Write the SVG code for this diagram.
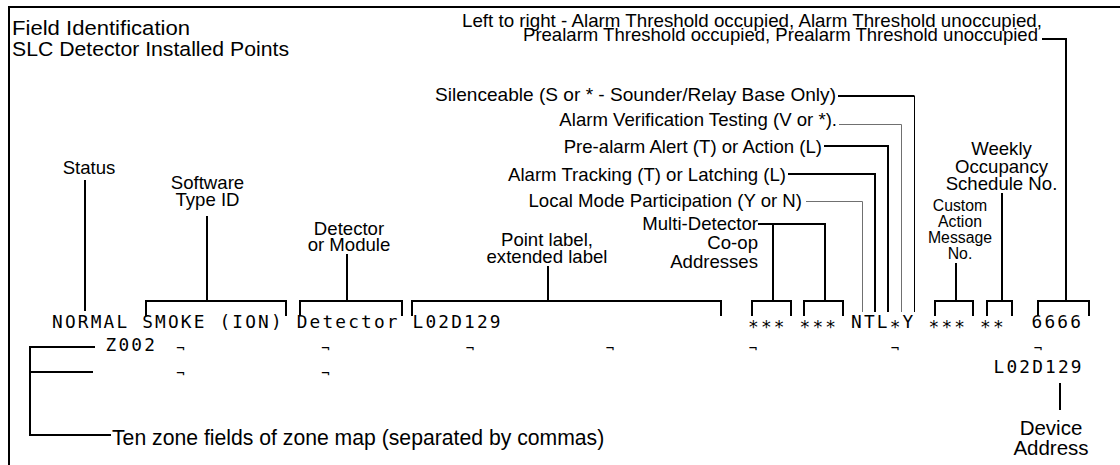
<svg xmlns="http://www.w3.org/2000/svg" width="1120" height="465" viewBox="0 0 1120 465">
<style>
text{font-family:"Liberation Sans",Arial,Helvetica,sans-serif;fill:#000}
.l{font-size:18.6px}
.m{text-anchor:middle}
.e{text-anchor:end}
.lcd{font-family:"DejaVu Sans Mono","Liberation Mono",monospace;font-size:17.8px;letter-spacing:2.17px}
.cm{font-family:"DejaVu Sans Mono","Liberation Mono",monospace;font-size:14px;text-anchor:middle}
.k{stroke:#000;stroke-width:2;fill:none}
.t{stroke:#000;stroke-width:1;fill:none}
.g{stroke:#707070;stroke-width:1;fill:none}
</style>
<rect width="1120" height="465" fill="#fff"/>
<path id="frame" class="k" d="M9,465 V7 H1120"/>

<g id="title">
<text x="12" y="35" font-size="20.5" textLength="178" lengthAdjust="spacingAndGlyphs">Field Identification</text>
<text x="12" y="55.5" font-size="20.5" textLength="277" lengthAdjust="spacingAndGlyphs">SLC Detector Installed Points</text>
</g>

<g id="thresholds">
<text x="462" y="27" font-size="18.4" textLength="580" lengthAdjust="spacingAndGlyphs">Left to right - Alarm Threshold occupied, Alarm Threshold unoccupied,</text>
<text x="523" y="40.5" font-size="18.4" textLength="515" lengthAdjust="spacingAndGlyphs">Prealarm Threshold occupied, Prealarm Threshold unoccupied</text>
</g>
<g id="silenceable"><text class="l e" x="836" y="101" textLength="401" lengthAdjust="spacingAndGlyphs">Silenceable (S or * - Sounder/Relay Base Only)</text></g>
<g id="alarm-verification"><text class="l e" x="837" y="126">Alarm Verification Testing (V or *).</text></g>
<g id="prealarm"><text class="l e" x="822" y="152.5">Pre-alarm Alert (T) or Action (L)</text></g>
<g id="alarm-tracking"><text class="l e" x="786" y="180.5">Alarm Tracking (T) or Latching (L)</text></g>
<g id="local-mode"><text class="l e" x="802" y="206.5">Local Mode Participation (Y or N)</text></g>
<g id="multi-detector">
<text class="l e" x="758" y="230">Multi-Detector</text>
<text class="l e" x="758" y="249">Co-op</text>
<text class="l e" x="758" y="268">Addresses</text>
</g>
<g id="status"><text class="l m" x="89" y="174">Status</text></g>
<g id="software-type">
<text class="l m" x="207.5" y="189">Software</text>
<text class="l m" x="207.5" y="206">Type ID</text>
</g>
<g id="detector-module">
<text class="l m" x="349" y="234.5">Detector</text>
<text class="l m" x="349" y="251">or Module</text>
</g>
<g id="point-label">
<text class="l m" x="547" y="246">Point label,</text>
<text class="l m" x="547" y="263">extended label</text>
</g>
<g id="custom-action">
<text class="m" x="960" y="210.5" font-size="15.8">Custom</text>
<text class="m" x="960" y="226.5" font-size="15.8">Action</text>
<text class="m" x="960" y="242.5" font-size="15.8">Message</text>
<text class="m" x="960" y="258.5" font-size="15.8">No.</text>
</g>
<g id="weekly-occupancy">
<text class="l m" x="1001.5" y="155">Weekly</text>
<text class="l m" x="1001.5" y="172.5">Occupancy</text>
<text class="l m" x="1001.5" y="190">Schedule No.</text>
</g>
<g id="zone-fields"><text x="112" y="445" font-size="21.2">Ten zone fields of zone map (separated by commas)</text></g>
<g id="device-address">
<text class="m" x="1051" y="435" font-size="20.5">Device</text>
<text class="m" x="1051" y="455" font-size="20.5">Address</text>
</g>

<g id="display">
<text class="lcd" x="52" y="328">NORMAL SMOKE (ION) Detector L02D129</text>
<text class="lcd" x="748" y="328"><tspan dy="5">***</tspan> <tspan>***</tspan></text>
<text class="lcd" x="851" y="328">NTL<tspan dy="5">*</tspan><tspan dy="-5">Y</tspan></text>
<text class="lcd" x="928.5" y="333">*** **</text>
<text class="lcd" x="1031.5" y="328">6666</text>
<text class="lcd" x="105.5" y="350.5">Z002</text>
<text class="lcd" x="993.5" y="373">L02D129</text>
<text class="cm" x="180.5" y="352.5">¬</text>
<text class="cm" x="325.5" y="352.5">¬</text>
<text class="cm" x="470" y="352.5">¬</text>
<text class="cm" x="610" y="352.5">¬</text>
<text class="cm" x="753" y="352.5">¬</text>
<text class="cm" x="895" y="352.5">¬</text>
<text class="cm" x="1038" y="352.5">¬</text>
<text class="cm" x="180.5" y="377.5">¬</text>
<text class="cm" x="325.5" y="377.5">¬</text>
</g>

<g id="connectors">
<path class="k" d="M85,180 V311"/>
<path class="k" d="M207,216 V301"/>
<path class="k" d="M347,254 V301"/>
<path class="k" d="M548,266 V301"/>
<path class="k" d="M758,224 H825 V301 M773,224 V301"/>
<path class="k" d="M956,263 V301"/>
<path class="k" d="M1002,193 V301"/>
<path class="k" d="M1042,39 H1066 V301"/>
<path class="k" d="M838,96 H914.5"/>
<path class="t" d="M914.5,96 V312"/>
<path class="g" d="M839,124.5 H901.5 V312"/>
<path class="k" d="M824,146 H888 V312"/>
<path class="k" d="M788,174 H875 V312"/>
<path class="g" d="M806,201.5 H862.5 V312"/>
<path class="k" d="M146,316 V301 H286 V316 M300,316 V301 H402 V316 M412,316 V301 H721 V316 M752,316 V301 H791 V316 M804,316 V301 H843 V316 M935,316 V301 H973 V316 M987,316 V301 H1012 V316 M1038,316 V301 H1089 V316"/>
<path class="k" d="M95,347 H30 V435 H111 M30,372 H93"/>
<path class="k" d="M1060,383 V410"/>
</g>
</svg>
